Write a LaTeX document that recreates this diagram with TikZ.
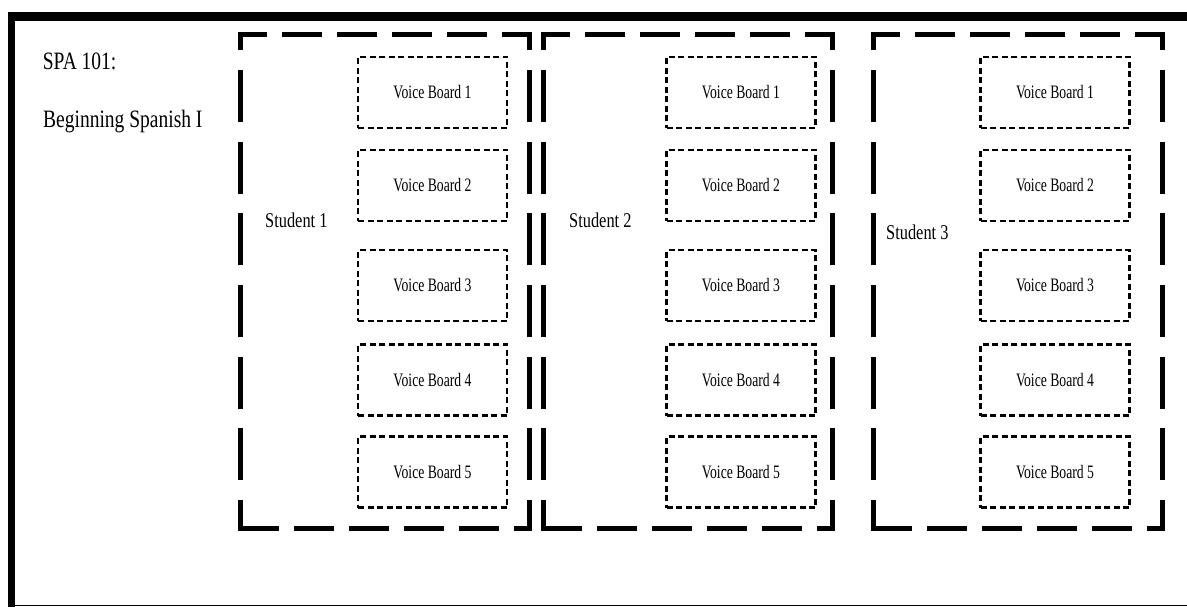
\documentclass[tikz,border=0pt]{standalone}
\usepackage{fontspec}
\setmainfont{Liberation Serif}
\newfontfamily\titlefont[FakeStretch=0.78]{Liberation Serif}
\newfontfamily\vbfont[FakeStretch=0.72]{Liberation Serif}
\begin{document}
\begin{tikzpicture}[x=1pt,y=-1pt,
  vbbox/.style={draw, line width=2.2pt, dash pattern=on 6pt off 3.5pt,
    minimum width=149pt, minimum height=71pt, inner sep=0pt, outer sep=0pt,
    font=\vbfont\fontsize{19}{22}\selectfont},
  stubox/.style={draw=none, inner sep=0pt, outer sep=0pt, minimum height=493pt},
  topside/.style={line width=5pt, line cap=rect, dash pattern=on 35pt off 20pt, dash phase=11pt},
  botside/.style={line width=5pt, line cap=rect, dash pattern=on 35pt off 20pt, dash phase=54pt},
  vside/.style={line width=5pt, line cap=rect, dash pattern=on 47pt off 24.67pt, dash phase=34.2pt},
  stulabel/.style={anchor=base west, inner sep=0pt, font=\titlefont\fontsize{21}{25}\selectfont},
  titlelabel/.style={anchor=base west, inner sep=0pt, font=\titlefont\fontsize{25}{30}\selectfont}]
\useasboundingbox (0,0) rectangle (1187,607);
% outer frame
\draw[line width=8.5pt] (8,16.5) -- (1187,16.5);
\draw[line width=7pt] (11.5,12) -- (11.5,607);
\draw[line width=1.5pt] (8,605.5) -- (1187,605.5);
% titles
\node[titlelabel] (t1) at (42.7,70) {SPA 101:};
\node[titlelabel] (t2) at (43,128) {Beginning Spanish I};
% student boxes
\node[stubox, minimum width=289.5pt] (s1) at (384.75,281.5) {};
\node[stubox, minimum width=289pt] (s2) at (688,281.5) {};
\node[stubox, minimum width=288.5pt] (s3) at (1017.75,281.5) {};
\foreach \s in {s1,s2,s3}{
  \draw[topside] (\s.north west) -- (\s.north east);
  \draw[botside] (\s.south west) -- (\s.south east);
  \draw[vside] (\s.north west) -- (\s.south west);
  \draw[vside] (\s.north east) -- (\s.south east);
}
\node[stulabel] (l1) at (265,227) {Student 1};
\node[stulabel] (l2) at (569,227) {Student 2};
\node[stulabel] (l3) at (886,240) {Student 3};
% voice boards
\foreach \c/\x in {1/432.5,2/741,3/1055}{
  \foreach \r/\y in {1/92.5,2/185.5,3/285.5,4/380,5/472}{
    \node[vbbox] (vb\c\r) at (\x,\y) {Voice Board \r};
  }
}
\end{tikzpicture}
\end{document}
